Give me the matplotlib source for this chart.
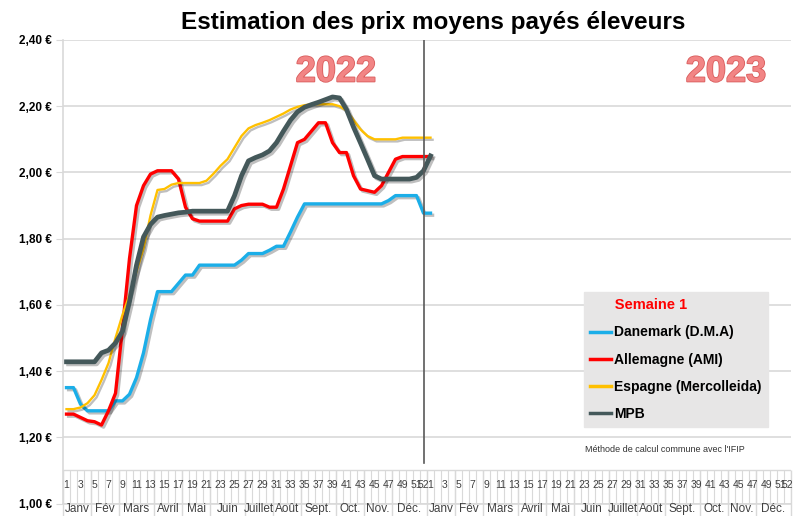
import matplotlib
matplotlib.use("Agg")
import matplotlib.pyplot as plt
import matplotlib.patheffects as pe
import numpy as np

plt.rcParams['font.family'] = ['Liberation Sans Narrow', 'Liberation Sans', 'DejaVu Sans']

# weekly prices (EUR/kg), 2022 weeks 1-52 + 2023 week 1
danemark = [1.35, 1.35, 1.30, 1.28, 1.28, 1.28, 1.28, 1.31, 1.31, 1.33,
            1.38, 1.455, 1.555, 1.64, 1.64, 1.64, 1.665, 1.69, 1.69, 1.72,
            1.72, 1.72, 1.72, 1.72, 1.72, 1.735, 1.755, 1.755, 1.755, 1.765,
            1.777, 1.777, 1.82, 1.865, 1.905, 1.905, 1.905, 1.905, 1.905, 1.905,
            1.905, 1.905, 1.905, 1.905, 1.905, 1.905, 1.915, 1.93, 1.93, 1.93,
            1.93, 1.877, 1.877]
allemagne = [1.27, 1.27, 1.26, 1.25, 1.247, 1.237, 1.28, 1.333, 1.53, 1.74,
             1.90, 1.96, 1.995, 2.005, 2.005, 2.005, 1.98, 1.895, 1.86, 1.853,
             1.853, 1.853, 1.853, 1.853, 1.89, 1.90, 1.904, 1.904, 1.904, 1.895,
             1.895, 1.95, 2.02, 2.09, 2.10, 2.125, 2.15, 2.15, 2.09, 2.06,
             2.06, 1.99, 1.95, 1.945, 1.94, 1.96, 2.00, 2.04, 2.048, 2.048,
             2.048, 2.048, 2.048]
espagne = [1.285, 1.285, 1.29, 1.303, 1.327, 1.373, 1.424, 1.50, 1.57, 1.63,
           1.70, 1.77, 1.87, 1.947, 1.95, 1.963, 1.968, 1.968, 1.968, 1.968,
           1.975, 1.996, 2.02, 2.04, 2.075, 2.11, 2.133, 2.143, 2.15, 2.158,
           2.168, 2.178, 2.19, 2.198, 2.203, 2.206, 2.206, 2.206, 2.206, 2.20,
           2.187, 2.158, 2.13, 2.11, 2.10, 2.10, 2.10, 2.10, 2.105, 2.105,
           2.105, 2.105, 2.105]
mpb = [1.428, 1.428, 1.428, 1.428, 1.428, 1.455, 1.463, 1.485, 1.52, 1.61,
       1.72, 1.805, 1.843, 1.865, 1.87, 1.874, 1.878, 1.88, 1.883, 1.883,
       1.883, 1.883, 1.883, 1.883, 1.93, 1.99, 2.035, 2.045, 2.053, 2.065,
       2.09, 2.125, 2.158, 2.183, 2.197, 2.205, 2.212, 2.22, 2.228, 2.225,
       2.19, 2.137, 2.089, 2.04, 1.99, 1.98, 1.98, 1.98, 1.98, 1.98,
       1.985, 2.005, 2.05]

months = ['Janv', 'Fév', 'Mars', 'Avril', 'Mai', 'Juin', 'Juillet', 'Août',
          'Sept.', 'Oct.', 'Nov.', 'Déc.']
weeks_per_month = [4, 4, 5, 4, 4, 5, 4, 4, 5, 4, 4, 5]
y_ticks = [1.00, 1.20, 1.40, 1.60, 1.80, 2.00, 2.20, 2.40]

series = [("Danemark (D.M.A)", danemark, '#1BAEE8', 2.4),
          ("Allemagne (AMI)", allemagne, '#FF0000', 2.4),
          ("Espagne (Mercolleida)", espagne, '#FFC000', 1.7),
          ("MPB", mpb, '#44585A', 3.4)]

grid_c = '#D9D9D9'

fig = plt.figure(figsize=(8, 5.16), dpi=100)
ax = fig.add_axes([63 / 800, 12.5 / 516, 728 / 800, 463.5 / 516])
ax.set_xlim(0.5, 104.5)
ax.set_ylim(1.0, 2.4)

for v in y_ticks:
    ax.axhline(v, color=grid_c, lw=1.2, zorder=0)
ax.axhline(1.10, color=grid_c, lw=1.0, zorder=0)

# category table (weeks / months)
ax.vlines(np.arange(0.5, 105, 1), 1.0, 1.10, color=grid_c, lw=0.8, zorder=0)
bounds = np.concatenate([[0], np.cumsum(weeks_per_month * 2)]) + 0.5
ax.vlines(bounds, 0.955, 1.10, color=grid_c, lw=1.0, zorder=0, clip_on=False)
for yr in range(2):
    for w in list(range(1, 52, 2)) + [52]:
        ax.text(yr * 52 + w, 1.056, str(w), ha='center', va='center',
                fontsize=7.5, color='#404040')
for i, m in enumerate(months * 2):
    ax.text((bounds[i] + bounds[i + 1]) / 2, 0.982, m, ha='center',
            va='center', fontsize=8.5, color='#404040', clip_on=False)

x = np.arange(1, len(mpb) + 1)
for label, vals, col, lw in series:
    ax.plot(x, vals, color=col, lw=lw, label=label, solid_joinstyle='round',
            path_effects=[pe.SimpleLineShadow(offset=(1.5, -1.5), alpha=0.25),
                          pe.Normal()])

ax.axvline(52, ymin=(1.122 - 1.0) / 1.4, ymax=1, color='#595959', lw=1.2)

ax.set_yticks(y_ticks)
ax.set_yticklabels([f"{v:.2f} €".replace('.', ',') for v in y_ticks],
                   fontsize=8.5, fontweight='bold')
ax.set_xticks([])
ax.tick_params(axis='y', length=5, color=grid_c, pad=3)
for s in ['top', 'right']:
    ax.spines[s].set_visible(False)
for s in ['left', 'bottom']:
    ax.spines[s].set_color(grid_c)
    ax.spines[s].set_linewidth(1.2)

fig.text(433 / 800, 1 - 22 / 516, "Estimation des prix moyens payés éleveurs",
         ha='center', va='center', fontsize=17.5, fontweight='bold')

for yr, xc in [("2022", 336), ("2023", 726)]:
    fig.text(xc / 800, 1 - 72 / 516, yr, ha='center', va='center',
             fontsize=26, fontweight='bold', color='#F28585',
             path_effects=[pe.withStroke(linewidth=1.2, foreground='#D95C5C')])

leg = ax.legend(loc='upper left', bbox_to_anchor=(584 / 800, 1 - 292 / 516),
                bbox_transform=fig.transFigure, title="      Semaine 1",
                alignment='left', fontsize=10, frameon=True, fancybox=False,
                handlelength=1.5, handletextpad=0.2, labelspacing=0.95,
                borderpad=0.45, borderaxespad=0)
leg.get_frame().set_facecolor('#E7E6E6')
leg.get_frame().set_edgecolor('#E7E6E6')
leg.get_frame().set_alpha(1)
leg.get_title().set_color('#FF0000')
leg.get_title().set_fontweight('bold')
leg.get_title().set_fontsize(10.5)
for t in leg.get_texts():
    t.set_fontweight('bold')
for h in leg.get_lines():
    h.set_path_effects([])
    h.set_linewidth(2.5)

fig.text(585 / 800, 1 - 449 / 516, "Méthode de calcul commune avec l'IFIP",
         ha='left', va='center', fontsize=6.5, color='#333333')

fig.savefig("out.png", dpi=100)
